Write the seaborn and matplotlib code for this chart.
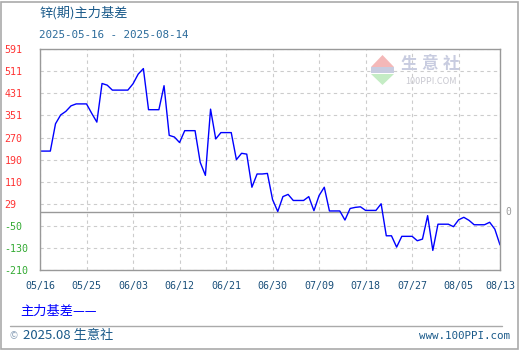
import numpy as np
import pandas as pd
import matplotlib
matplotlib.use("Agg")
import matplotlib.pyplot as plt
import seaborn as sns
from matplotlib.patches import Rectangle, Polygon
from matplotlib.lines import Line2D

# ---- data ----
days = list(range(90))  # day 0 = 2025-05-16
basis = [221, 221, 221, 320, 352, 365, 385, 392, 392, 392,
         358, 326, 466, 460, 442, 442, 442, 442, 465, 500,
         520, 371, 371, 371, 458, 278, 272, 252, 295, 295,
         295, 180, 133, 373, 265, 288, 288, 288, 190, 213,
         210, 90, 138, 138, 140, 45, 2, 56, 64, 42,
         42, 42, 56, 5, 60, 90, 4, 4, 4, -29,
         13, 17, 19, 6, 6, 6, 30, -86, -86, -127,
         -88, -88, -88, -104, -98, -13, -139, -44, -44, -44,
         -53, -28, -19, -30, -46, -46, -46, -37, -62, -119]
y_ticks = [-210, -130, -50, 29, 110, 190, 270, 351, 431, 511, 591]
x_tick_days = [0, 9, 18, 27, 36, 45, 54, 63, 72, 81, 89]
x_tick_labels = ["05/16", "05/25", "06/03", "06/12", "06/21", "06/30",
                 "07/09", "07/18", "07/27", "08/05", "08/13"]
title = "锌(期)主力基差"
subtitle = "2025-05-16 - 2025-08-14"
series_name = "主力基差"

sns.set_theme(style="white")
plt.rcParams["font.family"] = ["Noto Sans CJK SC", "DejaVu Sans"]

W, H = 520, 350
fig = plt.figure(figsize=(W / 100, H / 100), dpi=100)
fig.patch.set_facecolor("white")


def px(x, y):
    return x / W, 1 - y / H


ax = fig.add_axes([40 / W, 1 - 270 / H, 460 / W, 221 / H])
df = pd.DataFrame({"day": days, "basis": basis})
sns.lineplot(data=df, x="day", y="basis", ax=ax, color="#0000ff", lw=1.0)
ax.set_xlim(0, 89)
ax.set_ylim(-210, 591)
ax.set_xlabel("")
ax.set_ylabel("")

ax.set_yticks(y_ticks)
ax.set_yticklabels([str(v) for v in y_ticks])
ax.set_xticks(x_tick_days)
ax.set_xticklabels(x_tick_labels)
ax.tick_params(axis="y", length=0, pad=25.5, labelsize=7.2)
ax.tick_params(axis="x", length=0, pad=8, labelsize=7.2, colors="#1a4f7a")
for lab, v in zip(ax.get_yticklabels(), y_ticks):
    lab.set_horizontalalignment("left")
    lab.set_color("#ff3333" if v > 0 else "#33aa33")
    lab.set_family("DejaVu Sans Mono")
for lab in ax.get_xticklabels():
    lab.set_family("DejaVu Sans Mono")
    lab.set_color("#1a4f7a")

ax.grid(True, color="#cccccc", linestyle=(0, (3, 3)), lw=0.8)
ax.axhline(0, color="#999999", lw=1.0, zorder=1.5)
for s in ax.spines.values():
    s.set_color("#999999")
    s.set_linewidth(1.0)

# right-side zero label
fig.text(*px(505, 212), "0", color="#999999", fontsize=7, va="center",
         family="DejaVu Sans Mono")

# titles
fig.text(*px(39, 13), title, color="#1a5a8a", fontsize=9.5, va="center")
fig.text(*px(39, 35), subtitle, color="#2a6a9a", fontsize=7.8, va="center",
         family="DejaVu Sans Mono")

# legend text
fig.text(*px(20, 311), series_name + "——", color="#0000ff", fontsize=9.5,
         va="center")

# separator and footer
fig.add_artist(Line2D([10 / W, 502 / W], [1 - 326 / H, 1 - 326 / H],
                      transform=fig.transFigure, color="#aaaaaa", lw=1))
fig.text(*px(10, 336), "©", color="#8aa0b8", fontsize=7, va="center")
fig.text(*px(23, 336), "2025.08 生意社", color="#1a5a8a", fontsize=9.5,
         va="center")
fig.text(*px(510, 336), "www.100PPI.com", color="#1a5a8a", fontsize=7.8,
         va="center", ha="right", family="DejaVu Sans Mono")

# watermark
fig.add_artist(Polygon([px(371, 67), px(394, 67), px(382.5, 55)], closed=True,
                       transform=fig.transFigure, facecolor="#f4b8b8",
                       edgecolor="none"))
fig.add_artist(Rectangle(px(371, 73), 23 / W, 6 / H, transform=fig.transFigure,
                         facecolor="#c8cce0", edgecolor="none"))
fig.add_artist(Polygon([px(371, 74), px(394, 74), px(382.5, 85)], closed=True,
                       transform=fig.transFigure, facecolor="#c4ecc4",
                       edgecolor="none"))
for ch, cx in zip("生意社", [409, 430, 451]):
    fig.text(*px(cx, 64), ch, color="#c8cce0", fontsize=12, va="center",
             ha="center", fontweight="bold")
fig.text(*px(431, 81), "100PPI.COM", color="#c8c8d0", fontsize=6.5,
         va="center", ha="center")

# outer border
fig.add_artist(Rectangle((0.5 / W, 1.5 / H), 517 / W, 347 / H,
                         transform=fig.transFigure, fill=False,
                         edgecolor="#aaaaaa", lw=1.2))

fig.savefig("out.png", dpi=100)
